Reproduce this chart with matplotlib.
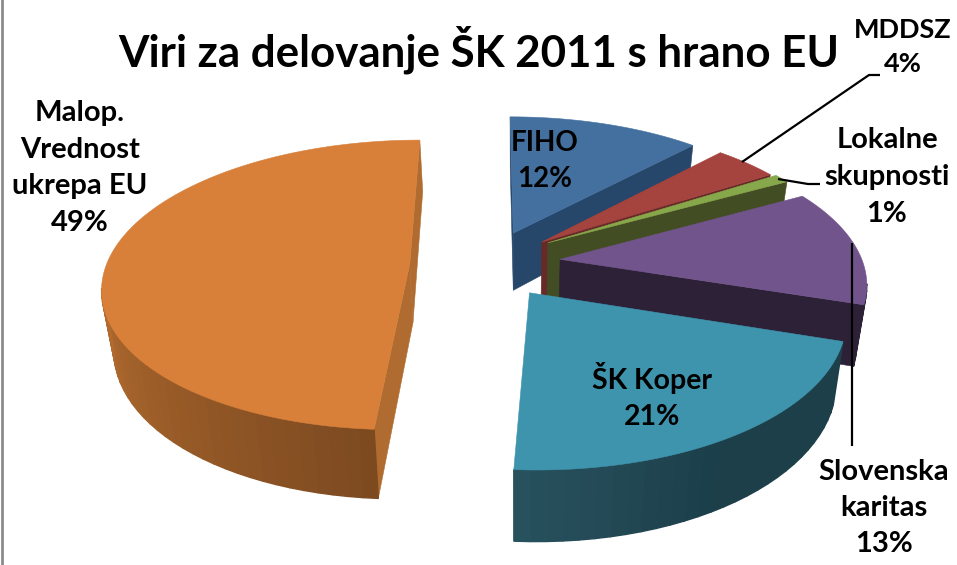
import numpy as np
import matplotlib
matplotlib.use("Agg")
import matplotlib.pyplot as plt
from matplotlib.colors import to_rgb
from matplotlib.patches import Polygon

TITLE = "Viri za delovanje ŠK 2011 s hrano EU"
categories = ["FIHO", "MDDSZ", "Lokalne\nskupnosti", "Slovenska\nkaritas", "ŠK Koper", "Malop.\nVrednost\nukrepa EU"]
shares = [12, 4, 1, 13, 21, 49]

top_colors = ["#44709f", "#a5433f", "#87a74b", "#72548c", "#3f94ad", "#d8803a"]
wall_colors = ["#26466a", "#672a27", "#434d24", "#2d2138", "#1c3f4a", "#b06c30"]
explode = [(0.086, 0.222), (0.182, 0.156), (0.202, 0.150), (0.239, 0.030), (0.133, -0.200), (-0.258, 0.0)]
draw_order = [0, 1, 2, 3, 4, 5]
label_xy = [(545, 161), (903, 47), (887, 177), (884, 508), (652, 396), (80, 168)]
label_size = [20, 19.5, 21, 21, 20.5, 21]

VPX, VPY, D, K, A = 488.0, -700.0, 963.6, 0.147, 303.0
HEIGHT = 59.0
FONT = "Lato"


def project(u, v):
    w = 1 + K * v
    return VPX + A * u / w, VPY + D / w


def lower(x, y, v):
    w = 1 + K * v
    return 515 + (x - 515) * 0.97, y + HEIGHT / w


def lerp(a, b, t):
    t = np.clip(t, 0, 1)
    a, b = np.array(to_rgb(a)), np.array(to_rgb(b))
    return tuple(a + (b - a) * t)


def arc_color(i, deg, base):
    if i == 5:
        return lerp("#7d4a20", "#bd7232", (deg - 183.6) / 90)
    if i == 4:
        return lerp("#28525f", base, (183.6 - deg) / 35)
    return base


fig = plt.figure(figsize=(9.57, 5.65), dpi=100, facecolor="white")
ax = fig.add_axes([0, 0, 1, 1])
ax.set_xlim(0, 957)
ax.set_ylim(565, 0)
ax.axis("off")

edges = np.cumsum([0] + shares) / sum(shares) * 360.0


def wall(x1, y1, v1, x2, y2, v2, color, z, lw=0.4):
    bx1, by1 = lower(x1, y1, v1)
    bx2, by2 = lower(x2, y2, v2)
    ax.add_patch(Polygon([(x1, y1), (x2, y2), (bx2, by2), (bx1, by1)], closed=True,
                         facecolor=color, edgecolor=color, linewidth=lw, zorder=z))


for i in draw_order:
    th0, th1 = edges[i], edges[i + 1]
    eu, ev = explode[i]
    degs = np.linspace(th0, th1, max(int(th1 - th0) * 2, 6))
    rad = np.radians(degs)
    us = eu + np.sin(rad)
    vs = ev + np.cos(rad)
    px, py = project(us, vs)
    ax_, ay_ = project(eu, ev)

    base_z = 2 + draw_order.index(i) * 0.1
    if px[-1] > ax_:
        wall(px[-1], py[-1], vs[-1], ax_, ay_, ev, wall_colors[i], base_z)
    if ax_ > px[0]:
        wall(ax_, ay_, ev, px[0], py[0], vs[0], wall_colors[i], base_z)

    # outer wall: coarser steps, painted in sequence so neighbours overlap without seams
    step_deg = np.linspace(th0, th1, max(int((th1 - th0) / 2.5), 3))
    s_rad = np.radians(step_deg)
    su, sv = eu + np.sin(s_rad), ev + np.cos(s_rad)
    sx, sy = project(su, sv)
    for j in range(len(step_deg) - 1):
        if sx[j] > sx[j + 1]:
            wall(sx[j], sy[j], sv[j], sx[j + 1], sy[j + 1], sv[j + 1],
                 arc_color(i, step_deg[j], wall_colors[i]), base_z + 0.01 + j * 1e-4, lw=1.0)
    ax.add_patch(Polygon(np.column_stack([np.r_[ax_, px], np.r_[ay_, py]]), closed=True,
                         facecolor=top_colors[i], edgecolor=top_colors[i], linewidth=0.4,
                         zorder=base_z + 0.05))

# leader lines
leaders = [([880, 869, 742], [75, 75, 162]), ([778, 808, 820], [179, 184, 184]), ([852, 852], [243, 446])]
for lx, ly in leaders:
    ax.plot(lx, ly, color="black", lw=1.6, zorder=5, solid_capstyle="butt")

ax.text(479, 50, TITLE, ha="center", va="center", fontsize=31.6, fontweight="bold",
        family=FONT, color="black", zorder=6)
for name, share, (x, y), fs in zip(categories, shares, label_xy, label_size):
    ax.text(x, y, f"{name}\n{share}%", ha="center", va="center", fontsize=fs, fontweight="bold",
            family=FONT, color="black", linespacing=1.5, zorder=6)

ax.plot([2, 2], [0, 565], color="#8c8c8c", lw=2, zorder=7)

fig.savefig("out.png", dpi=100, facecolor="white")
